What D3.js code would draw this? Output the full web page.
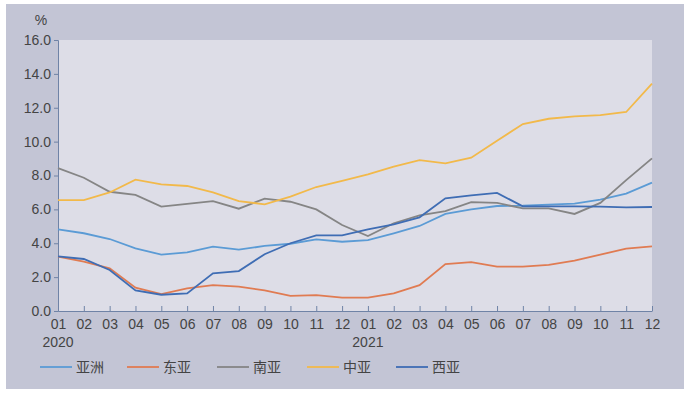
<!DOCTYPE html>
<html>
<head>
<meta charset="utf-8">
<script src="https://cdn.jsdelivr.net/npm/d3@7"></script>
<style>
  body { margin: 0; background: #fff; }
  text { font-family: "Liberation Sans", "Noto Sans CJK SC", sans-serif; fill: #444; }
</style>
</head>
<body>
<div class="chart"></div>
<script>
// months 2020-01 .. 2021-12
const months = ["01","02","03","04","05","06","07","08","09","10","11","12",
                "01","02","03","04","05","06","07","08","09","10","11","12"];
const years = [{ i: 0, label: "2020" }, { i: 12, label: "2021" }];
const yTicks = [0, 2, 4, 6, 8, 10, 12, 14, 16];

const asia = [4.82, 4.59, 4.25, 3.70, 3.33, 3.46, 3.80, 3.62, 3.84, 3.97, 4.23, 4.09,
              4.19, 4.59, 5.02, 5.73, 6.00, 6.20, 6.22, 6.28, 6.34, 6.57, 6.93, 7.58];
const eastAsia = [3.21, 2.91, 2.52, 1.38, 1.00, 1.34, 1.53, 1.44, 1.22, 0.89, 0.94, 0.79,
                  0.79, 1.04, 1.53, 2.77, 2.89, 2.62, 2.62, 2.72, 2.97, 3.33, 3.68, 3.82];
const southAsia = [8.44, 7.87, 7.04, 6.85, 6.16, 6.32, 6.49, 6.04, 6.63, 6.45, 6.00, 5.08,
                   4.43, 5.18, 5.65, 5.90, 6.43, 6.38, 6.06, 6.06, 5.73, 6.38, 7.73, 9.01];
const centralAsia = [6.55, 6.55, 7.00, 7.75, 7.48, 7.38, 7.00, 6.49, 6.30, 6.75, 7.32, 7.69,
                     8.07, 8.52, 8.91, 8.72, 9.05, 10.05, 11.04, 11.35, 11.49, 11.57, 11.75, 13.42];
const westAsia = [3.23, 3.07, 2.42, 1.22, 0.96, 1.04, 2.22, 2.36, 3.35, 4.00, 4.47, 4.47,
                  4.82, 5.12, 5.53, 6.65, 6.83, 6.97, 6.18, 6.18, 6.18, 6.16, 6.12, 6.14];

const series = [
  { name: "亚洲", values: asia, color: "#5b9bd5" },
  { name: "东亚", values: eastAsia, color: "#e07b52" },
  { name: "南亚", values: southAsia, color: "#858585" },
  { name: "中亚", values: centralAsia, color: "#f2b94a" },
  { name: "西亚", values: westAsia, color: "#3f6db4" }
];

const width = 688, height = 395;
const margin = { top: 40, right: 36, bottom: 84, left: 58 };
const innerW = width - margin.left - margin.right;
const innerH = height - margin.top - margin.bottom;

const svg = d3.select(".chart").append("svg")
  .attr("width", width)
  .attr("height", height);

// panel background
svg.append("rect")
  .attr("x", 6).attr("y", 4)
  .attr("width", 678).attr("height", 385)
  .attr("fill", "#c3c5d5");

const g = svg.append("g")
  .attr("transform", "translate(" + margin.left + "," + margin.top + ")");

g.append("rect")
  .attr("width", innerW).attr("height", innerH)
  .attr("fill", "#dddde7");

const x = d3.scaleLinear().domain([0, months.length - 1]).range([0, innerW]);
const y = d3.scaleLinear().domain([0, 16]).range([innerH, 0]);

// y axis
const yAxis = g.append("g")
  .call(d3.axisLeft(y).tickValues(yTicks).tickFormat(d3.format(".1f")).tickSize(4).tickPadding(3));
yAxis.selectAll("text").style("font-size", "14px").attr("fill", "#444");

// x axis, ticks pointing up
const xAxis = g.append("g")
  .attr("transform", "translate(0," + innerH + ")")
  .call(d3.axisBottom(x).tickValues(d3.range(months.length)).tickFormat(i => months[i]).tickSizeInner(-5).tickSizeOuter(0).tickPadding(8));
xAxis.selectAll("text").style("font-size", "14px").attr("fill", "#444");

[yAxis, xAxis].forEach(a => {
  a.select(".domain").attr("stroke", "#6f83a6");
  a.selectAll(".tick line").attr("stroke", "#6f83a6");
});

g.selectAll(".year")
  .data(years)
  .enter().append("text")
  .attr("class", "year")
  .attr("x", d => x(d.i))
  .attr("y", innerH + 36)
  .attr("text-anchor", "middle")
  .style("font-size", "14px")
  .text(d => d.label);

svg.append("text")
  .attr("x", 41).attr("y", 25)
  .attr("text-anchor", "middle")
  .style("font-size", "14px")
  .text("%");

const line = d3.line()
  .x((d, i) => x(i))
  .y(d => y(d));

g.selectAll(".series")
  .data(series)
  .enter().append("path")
  .attr("class", "series")
  .attr("d", d => line(d.values))
  .attr("fill", "none")
  .attr("stroke", d => d.color)
  .attr("stroke-width", 1.8);

// legend
const legendX = [40, 127, 217, 307, 396];
const legend = svg.selectAll(".legend")
  .data(series)
  .enter().append("g")
  .attr("class", "legend")
  .attr("transform", (d, i) => "translate(" + legendX[i] + ",367)");

legend.append("line")
  .attr("x1", 0).attr("x2", 32)
  .attr("stroke", d => d.color)
  .attr("stroke-width", 1.8);

legend.append("text")
  .attr("x", 36).attr("y", 5)
  .style("font-size", "14px")
  .style("font-family", "'Noto Sans CJK SC', sans-serif")
  .text(d => d.name);
</script>
</body>
</html>
